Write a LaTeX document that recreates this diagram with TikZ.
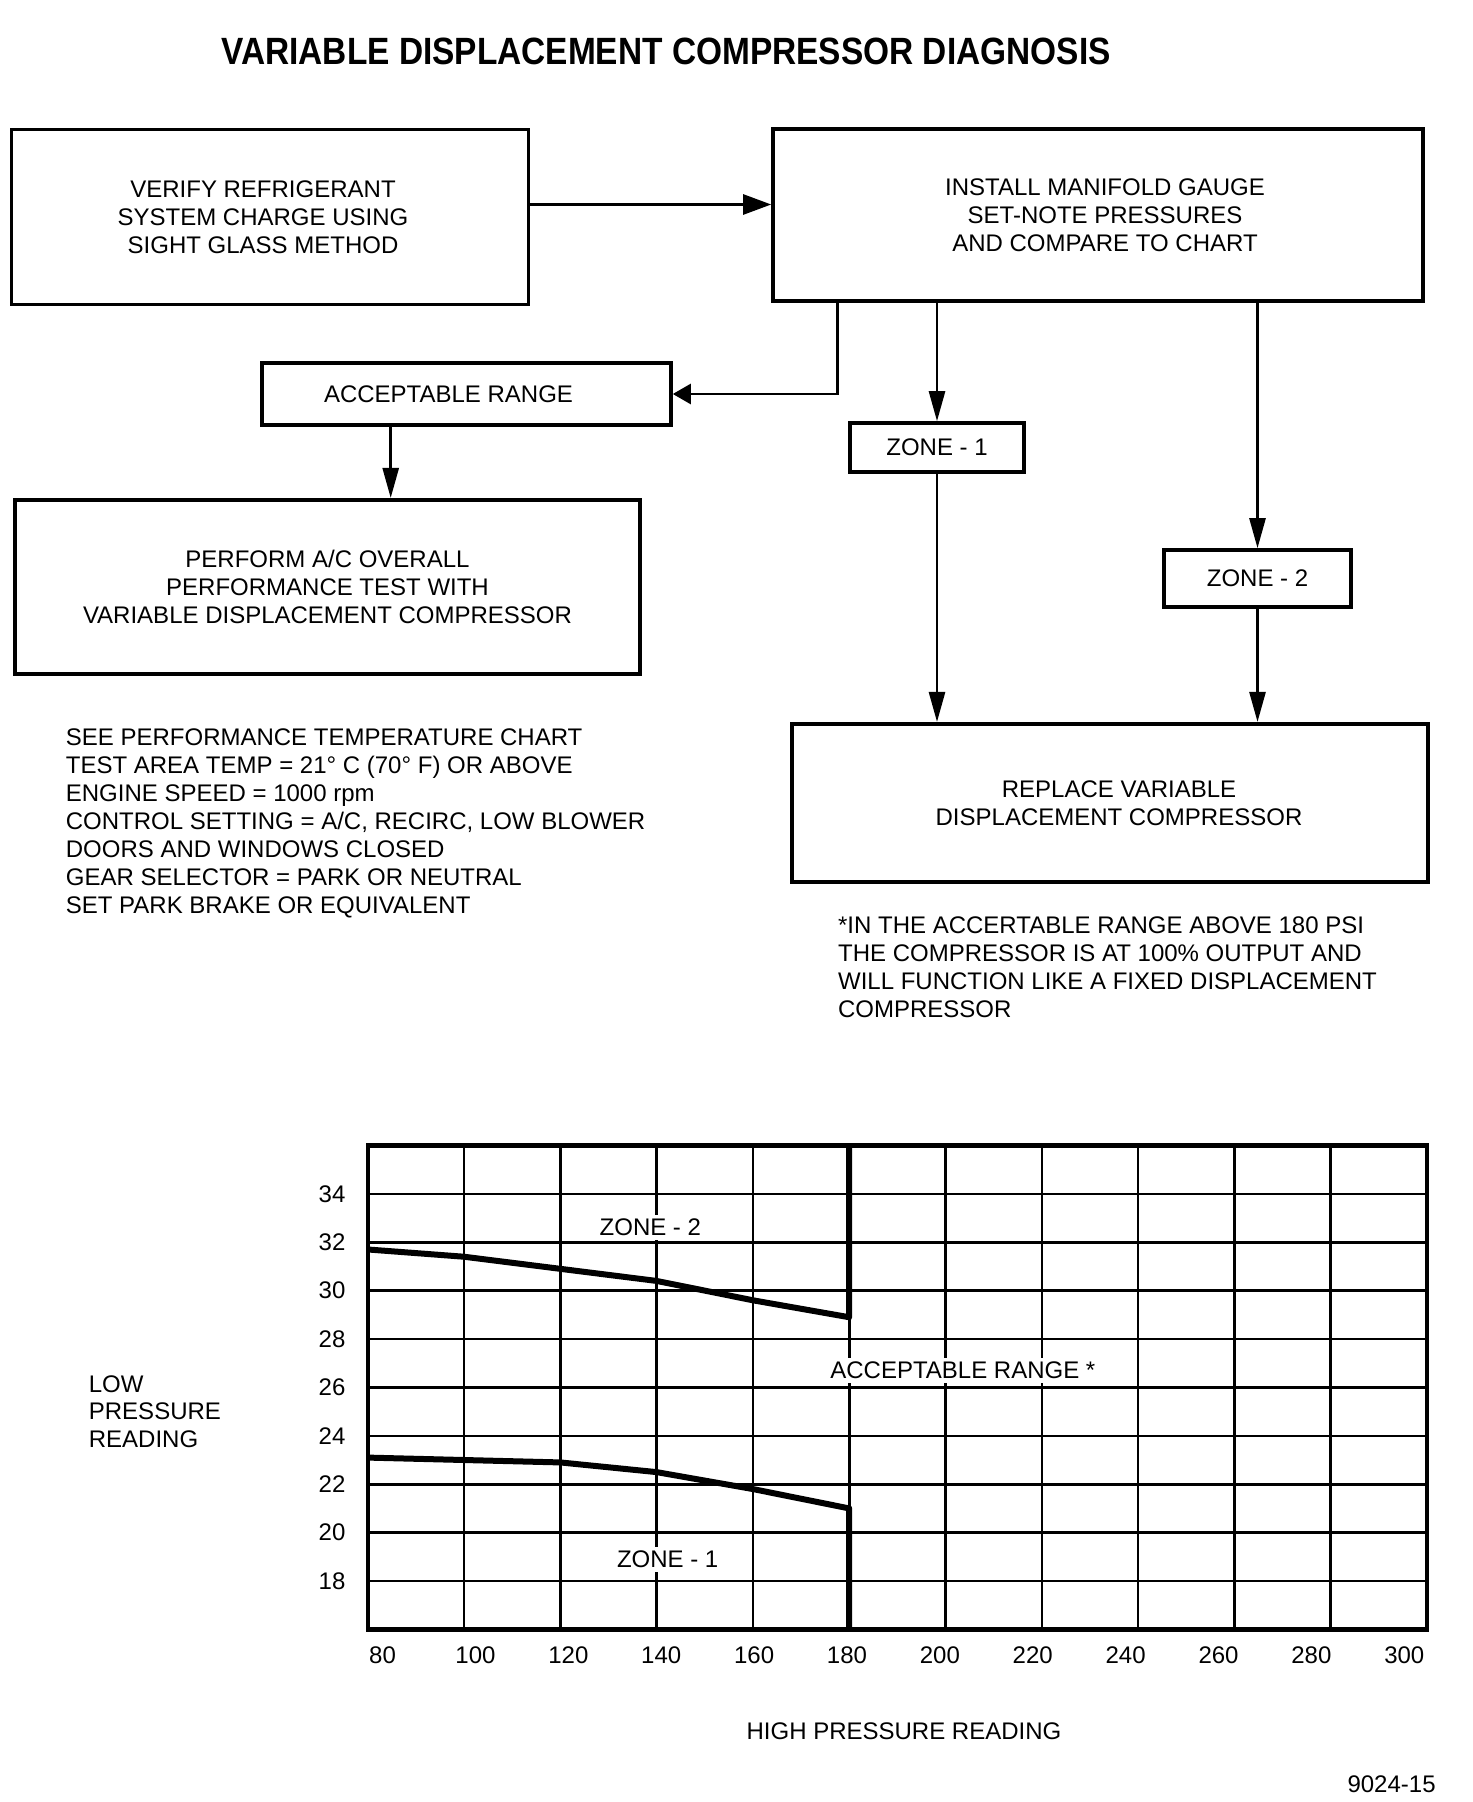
\documentclass[tikz,border=0pt]{standalone}
\usepackage{fontspec}
\setmainfont{Liberation Sans}
\usetikzlibrary{arrows.meta}
\begin{document}
\begin{tikzpicture}[x=0.5pt,y=-0.5pt,
  box/.style={draw, line width=1.8pt, align=center, inner sep=0pt, font=\fontsize{12}{14}\selectfont},
  conn/.style={line width=1.3pt, -{Triangle[length=15pt,width=8pt]}},
  txt/.style={font=\fontsize{12}{14}\selectfont, inner sep=0pt},
  lbl/.style={font=\fontsize{12}{14}\selectfont, inner sep=2pt, fill=white},
  gridln/.style={line width=1.3pt},
  frameln/.style={line width=2.2pt},
  zoneln/.style={line width=3pt, line join=round},
]
\fill[white] (0,0) rectangle (1472,1802);
\useasboundingbox (0,0) rectangle (1472,1802);

% title
\node[font=\fontsize{19}{22}\selectfont\bfseries, inner sep=0pt] (title) at (666,51.7)
  {\scalebox{0.88}[1]{VARIABLE DISPLACEMENT COMPRESSOR DIAGNOSIS}};

% flowchart boxes
\node[box, minimum width=258.5pt, minimum height=87.5pt] (verify) at (270,217)
  {\hspace*{-7pt}VERIFY REFRIGERANT\\\hspace*{-7pt}SYSTEM CHARGE USING\\\hspace*{-7pt}SIGHT GLASS METHOD};
\node[box, minimum width=325pt, minimum height=86pt] (install) at (1098,215)
  {\hspace*{7pt}INSTALL MANIFOLD GAUGE\\\hspace*{7pt}SET-NOTE PRESSURES\\\hspace*{7pt}AND COMPARE TO CHART};
\node[box, minimum width=204.5pt, minimum height=31pt] (acc) at (466.5,394) {\hspace*{-18pt}ACCEPTABLE RANGE};
\node[box, minimum width=87pt, minimum height=24.5pt] (z1) at (937,447.5) {ZONE - 1};
\node[box, minimum width=93.5pt, minimum height=28.5pt] (z2) at (1257.5,578.5) {ZONE - 2};
\node[box, minimum width=312.5pt, minimum height=87.25pt] (perform) at (327.5,587)
  {PERFORM A/C OVERALL\\PERFORMANCE TEST WITH\\VARIABLE DISPLACEMENT COMPRESSOR};
\node[box, minimum width=318pt, minimum height=79.25pt] (replace) at (1110,803)
  {\hspace*{9pt}REPLACE VARIABLE\\\hspace*{9pt}DISPLACEMENT COMPRESSOR};

% connectors
\coordinate (ay) at (0,204.5);
\coordinate (bx) at (837.7,0);
\coordinate (px) at (390.7,0);
\draw[conn, -{Triangle[length=14pt,width=10pt]}] (verify.east |- ay) -- (install.west |- ay);
\draw[conn, -{Triangle[length=9pt,width=10pt]}] (bx |- install.south) |- (acc.east);
\draw[conn] (install.south -| z1.north) -- (z1.north);
\draw[conn] (install.south -| z2.north) -- (z2.north);
\draw[conn] (px |- acc.south) -- (px |- perform.north);
\draw[conn] (z1.south) -- (z1.south |- replace.north);
\draw[conn] (z2.south) -- (z2.south |- replace.north);

% notes
\node[txt, anchor=base west] (n1) at (65.5,745.2) {SEE PERFORMANCE TEMPERATURE CHART};
\node[txt, anchor=base west] (n2) at (65.5,773.2) {TEST AREA TEMP = 21° C (70° F) OR ABOVE};
\node[txt, anchor=base west] (n3) at (65.5,801.2) {ENGINE SPEED = 1000 rpm};
\node[txt, anchor=base west] (n4) at (65.5,829.2) {CONTROL SETTING = A/C, RECIRC, LOW BLOWER};
\node[txt, anchor=base west] (n5) at (65.5,857.2) {DOORS AND WINDOWS CLOSED};
\node[txt, anchor=base west] (n6) at (65.5,885.2) {GEAR SELECTOR = PARK OR NEUTRAL};
\node[txt, anchor=base west] (n7) at (65.5,913.2) {SET PARK BRAKE OR EQUIVALENT};

% footnote
\node[txt, anchor=base west] (f1) at (837.7,933.6) {*IN THE ACCERTABLE RANGE ABOVE 180 PSI};
\node[txt, anchor=base west] (f2) at (837.7,961.4) {THE COMPRESSOR IS AT 100\% OUTPUT AND};
\node[txt, anchor=base west] (f3) at (837.7,989.2) {WILL FUNCTION LIKE A FIXED DISPLACEMENT};
\node[txt, anchor=base west] (f4) at (837.7,1017.2) {COMPRESSOR};

% chart
\begin{scope}[shift={(367.7,1629.4)}, x=2.4075pt, y=12.1pt]
  \foreach \p in {20,40,...,200} \draw[gridln] (\p,0) -- (\p,20);
  \foreach \v in {2,4,...,18} \draw[gridln] (0,\v) -- (220,\v);
  \draw[frameln] (0,0) rectangle (220,20);
  \draw[zoneln] (0,15.7) -- (20,15.4) -- (40,14.9) -- (60,14.4) -- (80,13.6) -- (100,12.9) -- (100,20);
  \draw[zoneln] (0,7.1) -- (20,7.0) -- (40,6.9) -- (60,6.5) -- (80,5.8) -- (100,5.0) -- (100,0);
  \node[lbl] (zl2) at (58.7,16.6) {ZONE - 2};
  \node[lbl] (zl1) at (62.3,2.9) {ZONE - 1};
  \node[lbl] (accl) at (123.6,10.7) {ACCEPTABLE RANGE *};
  \foreach \v in {1,...,9} {
    \pgfmathtruncatemacro{\lab}{16+2*\v}
    \node[txt] (yl\v) at (-7.4,2*\v) {\lab};
  }
  \foreach \i in {0,...,11} {
    \pgfmathtruncatemacro{\lab}{80+20*\i}
    \node[txt] (xl\i) at ({3.09+19.29*\i},-1.05) {\lab};
  }
\end{scope}

\node[txt, anchor=base west] (low1) at (88.5,1392.1) {LOW};
\node[txt, anchor=base west] (low2) at (88.5,1419.6) {PRESSURE};
\node[txt, anchor=base west] (low3) at (88.5,1447.3) {READING};
\node[txt] (hpr) at (904,1731.7) {HIGH PRESSURE READING};
\node[txt, anchor=east] (fig) at (1436,1784.5) {9024-15};
\end{tikzpicture}
\end{document}
